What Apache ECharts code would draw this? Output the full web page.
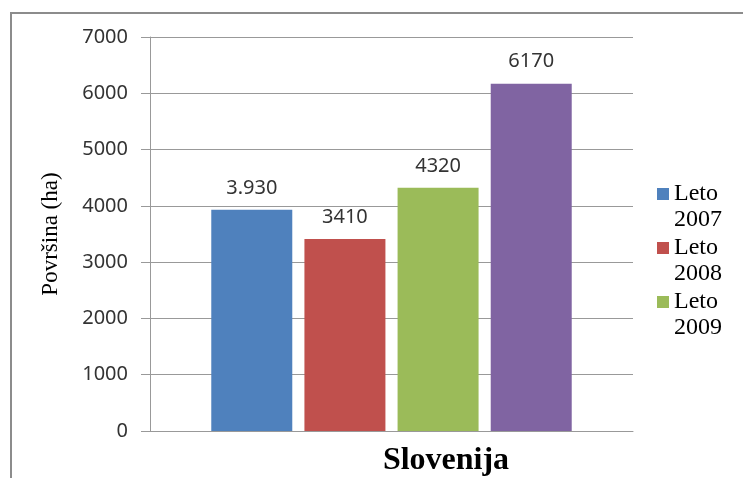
<!DOCTYPE html>
<html>
<head>
<meta charset="utf-8">
<script src="https://cdn.jsdelivr.net/npm/echarts@6/dist/echarts.min.js"></script>
<style>
html,body{margin:0;padding:0;background:#fff;}
#chart{width:743px;height:478px;}
</style>
</head>
<body>
<div id="chart"></div>
<script>
const categories = ['Slovenija'];
const seriesNames = ['Leto 2007', 'Leto 2008', 'Leto 2009', 'Leto 2010'];
const seriesValues = [3930, 3410, 4320, 6170];
const valueLabels = ['3.930', '3410', '4320', '6170'];
const seriesColors = ['#4F81BD', '#C0504D', '#9BBB59', '#8064A2'];
const legendNames = ['Leto 2007', 'Leto 2008', 'Leto 2009'];
const yTicks = [0, 1000, 2000, 3000, 4000, 5000, 6000, 7000];
const yAxisTitle = 'Površina (ha)';

const chart = echarts.init(document.getElementById('chart'));

const legendTops = [155, 209, 263];
const legends = legendNames.map((n, i) => ({
  data: [n],
  orient: 'vertical',
  left: 657,
  top: legendTops[i],
  padding: 0,
  itemWidth: 12,
  itemHeight: 12,
  icon: 'rect',
  formatter: name => '\n' + name.replace(' ', '\n'),
  textStyle: { fontFamily: 'Liberation Serif', fontSize: 24, lineHeight: 26, color: '#000' }
}));

const series = seriesNames.map((n, i) => ({
  name: n,
  type: 'bar',
  barWidth: 81,
  barGap: '15%',
  data: [seriesValues[i]],
  itemStyle: { color: seriesColors[i] },
  label: {
    show: true,
    position: 'top',
    distance: 12,
    formatter: () => valueLabels[i],
    fontFamily: 'Noto Sans',
    fontSize: 20,
    color: '#333'
  }
}));

chart.setOption({
  animation: false,
  backgroundColor: '#fff',
  grid: { left: 150, right: 110, top: 37, bottom: 47, containLabel: false },
  legend: legends,
  xAxis: {
    type: 'category',
    data: categories,
    axisLine: { show: true, lineStyle: { color: '#999', width: 1 } },
    axisTick: { show: false },
    axisLabel: { show: false }
  },
  yAxis: {
    type: 'value',
    min: yTicks[0],
    max: yTicks[yTicks.length - 1],
    interval: 1000,
    name: yAxisTitle,
    nameLocation: 'middle',
    nameRotate: 90,
    nameGap: 88,
    nameTextStyle: { fontFamily: 'Liberation Serif', fontSize: 23, color: '#000' },
    axisLine: { show: true, lineStyle: { color: '#999', width: 1 } },
    axisTick: { show: true, length: 9, lineStyle: { color: '#999' } },
    axisLabel: { margin: 22, fontFamily: 'Noto Sans', fontSize: 20, color: '#333', formatter: v => String(v) },
    splitLine: { show: true, lineStyle: { color: '#999', width: 1 } }
  },
  series: series,
  graphic: [
    {
      type: 'rect',
      silent: true,
      shape: { x: 11, y: 13, width: 800, height: 520 },
      style: { fill: 'none', stroke: '#8c8c8c', lineWidth: 2 }
    },
    {
      type: 'text',
      silent: true,
      style: {
        x: 446, y: 461,
        text: categories[0],
        align: 'center',
        verticalAlign: 'middle',
        fontFamily: 'Liberation Serif',
        fontWeight: 'bold',
        fontSize: 32,
        fill: '#000'
      }
    }
  ]
});
</script>
</body>
</html>
